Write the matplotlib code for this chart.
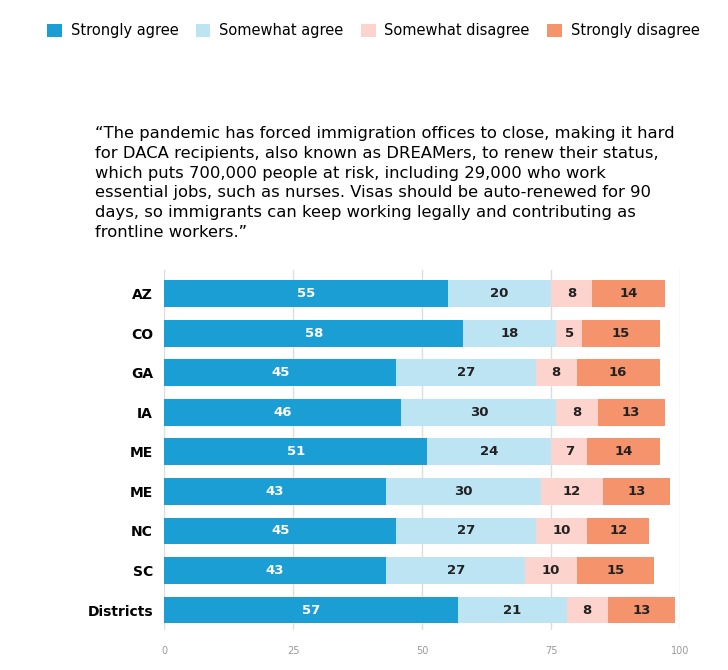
import numpy as np
import matplotlib.pyplot as plt

states = ["AZ", "CO", "GA", "IA", "ME", "ME", "NC", "SC", "Districts"]
strongly_agree = [55, 58, 45, 46, 51, 43, 45, 43, 57]
somewhat_agree = [20, 18, 27, 30, 24, 30, 27, 27, 21]
somewhat_disagree = [8, 5, 8, 8, 7, 12, 10, 10, 8]
strongly_disagree = [14, 15, 16, 13, 14, 13, 12, 15, 13]

series = [
    ("Strongly agree", strongly_agree, "#1a9ed4", "white"),
    ("Somewhat agree", somewhat_agree, "#bde4f3", "#222222"),
    ("Somewhat disagree", somewhat_disagree, "#fdd3cd", "#222222"),
    ("Strongly disagree", strongly_disagree, "#f5936c", "#222222"),
]

fig = plt.figure(figsize=(7.28, 6.70), dpi=100)
ax = fig.add_axes([0.2253, 0.06, 0.709, 0.537])

y = np.arange(len(states))
left = np.zeros(len(states))
handles = []
for name, vals, color, tcol in series:
    vals = np.array(vals, dtype=float)
    h = ax.barh(y, vals, left=left, color=color, height=0.68, zorder=2, label=name)
    handles.append(h)
    for yi, l, v in zip(y, left, vals):
        ax.text(l + v / 2, yi, str(int(v)), ha="center", va="center",
                color=tcol, fontsize=9.5, fontweight="bold", zorder=3)
    left += vals

ax.set_xlim(0, 100)
ax.set_ylim(len(states) - 0.5, -0.6)
ax.set_xticks([0, 25, 50, 75, 100])
ax.tick_params(axis="x", labelsize=7, colors="#999999", length=0, pad=12)
ax.set_yticks(y)
ax.set_yticklabels(states, fontsize=10, fontweight="bold")
ax.tick_params(axis="y", length=0, pad=8)
ax.grid(axis="x", color="#dddddd", linewidth=1, zorder=0)
for s in ax.spines.values():
    s.set_visible(False)

fig.legend(handles=handles, loc="upper left", bbox_to_anchor=(0.065, 0.965), ncol=4,
           frameon=False, fontsize=10.5, handlelength=1.0, handleheight=1.0,
           columnspacing=1.2, handletextpad=0.6, borderaxespad=0, borderpad=0)

quote = ("\u201cThe pandemic has forced immigration offices to close, making it hard\n"
         "for DACA recipients, also known as DREAMers, to renew their status,\n"
         "which puts 700,000 people at risk, including 29,000 who work\n"
         "essential jobs, such as nurses. Visas should be auto-renewed for 90\n"
         "days, so immigrants can keep working legally and contributing as\n"
         "frontline workers.\u201d")
fig.text(0.13, 0.812, quote, fontsize=11.8, va="top", ha="left", linespacing=1.4)

fig.savefig("out.png", dpi=100)
